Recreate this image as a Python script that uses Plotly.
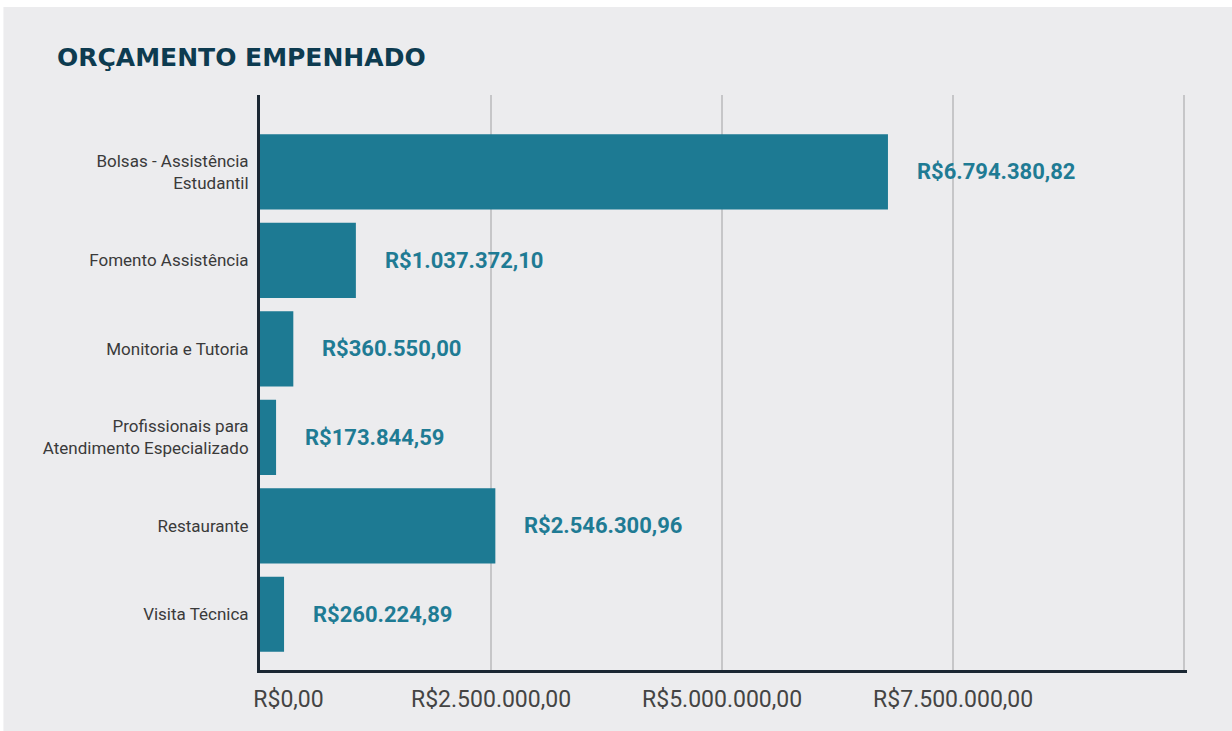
import plotly.graph_objects as go

# categories and values (R$)
categorias = [
    "Bolsas - Assistência<br>Estudantil",
    "Fomento Assistência",
    "Monitoria e Tutoria",
    "Profissionais para<br>Atendimento Especializado",
    "Restaurante",
    "Visita Técnica",
]
valores = [6794380.82, 1037372.10, 360550.00, 173844.59, 2546300.96, 260224.89]
ticks_x = [0, 2500000, 5000000, 7500000, 10000000]

BAR = "#1d7a93"
BG = "#ececee"


def brl(v):
    s = f"{v:,.2f}"
    s = s.replace(",", "X").replace(".", ",").replace("X", ".")
    return "R$" + s


tick_text = [brl(v) if v < 10000000 else "" for v in ticks_x]
# first label sits to the right of the axis in the original
tick_text[0] = "\u00a0" * 10 + tick_text[0]

fig = go.Figure(
    go.Bar(
        x=valores,
        y=categorias,
        orientation="h",
        marker=dict(color=BAR, line=dict(width=0)),
        width=0.85,
        hoverinfo="skip",
    )
)

# value labels next to each bar
for cat, val in zip(categorias, valores):
    fig.add_annotation(
        x=val, y=cat, text=brl(val),
        xanchor="left", yanchor="middle", xshift=27, showarrow=False,
        font=dict(family="Roboto", size=22, color="#1f7b94", weight="bold"),
    )

# light gray card behind everything (white strip at top/left)
fig.add_shape(
    type="rect", xref="paper", yref="paper",
    x0=-0.2768, x1=1.06, y0=-0.12, y1=1.1530,
    fillcolor=BG, line=dict(width=0), layer="below",
)

fig.update_layout(
    width=1232,
    height=731,
    paper_bgcolor="white",
    plot_bgcolor="rgba(0,0,0,0)",
    margin=dict(l=260, r=45, t=95, b=61),
    showlegend=False,
    bargap=0.15,
    title=dict(
        text="ORÇAMENTO EMPENHADO",
        x=57 / 1232, xref="container", xanchor="left",
        y=1 - 57 / 731, yref="container", yanchor="middle",
        font=dict(family="DejaVu Sans", size=25, color="#0d3b50", weight="bold"),
    ),
    xaxis=dict(
        range=[0, 10030000],
        tickvals=ticks_x,
        ticktext=tick_text,
        showgrid=True,
        gridcolor="#c6c6c8",
        gridwidth=2,
        zeroline=False,
        showline=True,
        linecolor="#1b2733",
        linewidth=3,
        ticks="",
        ticklabelstandoff=6,
        tickfont=dict(family="Roboto", size=23, color="#444444"),
        fixedrange=True,
    ),
    yaxis=dict(
        range=[5.63, -0.87],
        showgrid=False,
        zeroline=False,
        showline=True,
        linecolor="#1b2733",
        linewidth=3,
        ticks="",
        ticklabelstandoff=5,
        tickfont=dict(family="Roboto", size=17, color="#3a3a3a"),
        fixedrange=True,
    ),
)

fig.write_html(
    "out.html",
    config={"displayModeBar": False},
    post_script="document.body.style.margin='0';",
)
